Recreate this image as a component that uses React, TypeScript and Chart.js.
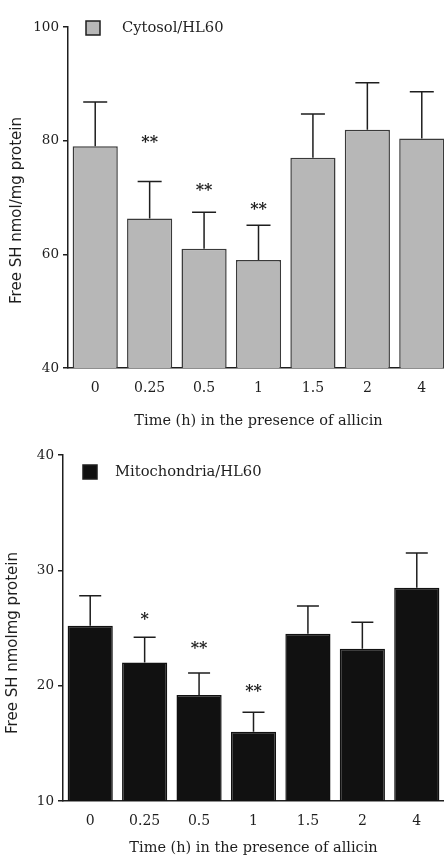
import React, { useEffect, useRef } from "react";
import { Chart, registerables } from "chart.js";

Chart.register(...registerables);

// ---- data ----
const categories = ["0", "0.25", "0.5", "1", "1.5", "2", "4"];

const cytosolLabel = "Cytosol/HL60";
const cytosolValues = [79.0, 66.3, 61.0, 59.0, 77.0, 81.9, 80.4];
const cytosolErrors = [7.8, 6.5, 6.4, 6.1, 7.7, 8.3, 8.2];
const cytosolStars = ["", "**", "**", "**", "", "", ""];
const cytosolStarLevels = [0, 80.4, 72.0, 68.6, 0, 0, 0];
const cytosolTicks = [40, 60, 80, 100];

const mitoLabel = "Mitochondria/HL60";
const mitoValues = [25.2, 22.0, 19.2, 16.0, 24.5, 23.2, 28.5];
const mitoErrors = [2.6, 2.2, 1.9, 1.7, 2.4, 2.3, 3.0];
const mitoStars = ["", "*", "**", "**", "", "", ""];
const mitoStarLevels = [0, 26.1, 23.6, 19.9, 0, 0, 0];
const mitoTicks = [10, 20, 30, 40];

const xTitle = "Time (h) in the presence of allicin";
const cytosolYTitle = "Free SH nmol/mg protein";
const mitoYTitle = "Free SH nmolmg protein";

const SERIF = '"DejaVu Serif", "Liberation Serif", serif';
const SANS = '"DejaVu Sans", "Liberation Sans", sans-serif';
const INK = "#1e1e1e";

const decorPlugin = {
  id: "panelDecor",
  afterDatasetsDraw(chart: any, _args: any, opts: any) {
    const ctx = chart.ctx as CanvasRenderingContext2D;
    const meta = chart.getDatasetMeta(0);
    const ys = chart.scales.y;
    const vals = chart.data.datasets[0].data as number[];
    const area = chart.chartArea;
    ctx.save();
    ctx.strokeStyle = INK;
    ctx.lineWidth = 1.5;
    ctx.fillStyle = INK;
    ctx.textAlign = "center";
    ctx.textBaseline = "alphabetic";
    const starSize = 16;
    ctx.font = `bold ${starSize}px ${SERIF}`;
    meta.data.forEach((bar: any, i: number) => {
      const top = ys.getPixelForValue(vals[i] + opts.errors[i]);
      const x = bar.x;
      ctx.beginPath();
      ctx.moveTo(x, bar.y);
      ctx.lineTo(x, top);
      ctx.moveTo(x - opts.capHalf, top);
      ctx.lineTo(x + opts.capHalf, top);
      ctx.stroke();
      if (opts.stars[i]) {
        const cy = ys.getPixelForValue(opts.starLevels[i]);
        ctx.fillText(opts.stars[i], x, cy + starSize * 0.55);
      }
    });
    // legend
    const bx = area.left + opts.legendDx;
    const by = area.top + opts.legendDy;
    ctx.fillStyle = opts.legendFill;
    ctx.fillRect(bx, by, 14, 14);
    ctx.lineWidth = 1.5;
    ctx.strokeStyle = INK;
    ctx.strokeRect(bx, by, 14, 14);
    ctx.fillStyle = INK;
    ctx.textAlign = "left";
    ctx.textBaseline = "middle";
    ctx.font = `14.7px ${SERIF}`;
    ctx.fillText(opts.label, area.left + opts.textDx, by + 7);
    // y-axis title
    ctx.save();
    ctx.translate(opts.yTitleX, (area.top + area.bottom) / 2 + opts.yTitleShift);
    ctx.rotate(-Math.PI / 2);
    ctx.textAlign = "center";
    ctx.textBaseline = "middle";
    ctx.font = `15px ${SANS}`;
    ctx.fillText(opts.yTitle, 0, 0);
    ctx.restore();
    ctx.restore();
  },
};

function makeConfig(p: {
  label: string;
  values: number[];
  errors: number[];
  stars: string[];
  starLevels: number[];
  ticks: number[];
  yTitle: string;
  fill: string;
  border: string;
  yWidth: number;
  xHeight: number;
  padTop: number;
  padRight: number;
  legendDx: number;
  legendDy: number;
  textDx: number;
  capHalf: number;
  yTitleX: number;
  yTitleShift: number;
}): any {
  const min = p.ticks[0];
  const max = p.ticks[p.ticks.length - 1];
  const step = p.ticks[1] - p.ticks[0];
  return {
    type: "bar",
    data: {
      labels: categories,
      datasets: [
        {
          label: p.label,
          data: p.values,
          backgroundColor: p.fill,
          borderColor: p.border,
          borderWidth: 1.5,
          barPercentage: 0.83,
          categoryPercentage: 1,
        },
      ],
    },
    options: {
      responsive: false,
      animation: false,
      layout: { padding: { top: p.padTop, right: p.padRight, left: 0, bottom: 0 } },
      plugins: {
        legend: { display: false },
        tooltip: { enabled: false },
        panelDecor: {
          errors: p.errors,
          stars: p.stars,
          starLevels: p.starLevels,
          label: p.label,
          legendFill: p.fill,
          legendDx: p.legendDx,
          legendDy: p.legendDy,
          textDx: p.textDx,
          capHalf: p.capHalf,
          yTitle: p.yTitle,
          yTitleX: p.yTitleX,
          yTitleShift: p.yTitleShift,
        },
      },
      scales: {
        x: {
          grid: { display: false, drawTicks: false },
          border: { display: true, color: INK, width: 1.5 },
          ticks: { color: INK, font: { family: SERIF, size: 14 }, padding: 12 },
          title: {
            display: true,
            text: xTitle,
            color: INK,
            font: { family: SERIF, size: 14.5 },
            padding: { top: 3, bottom: 0 },
          },
          afterFit(scale: any) {
            scale.height = p.xHeight;
          },
        },
        y: {
          min,
          max,
          ticks: { stepSize: step, color: INK, font: { family: SERIF, size: 13.5 }, padding: 4 },
          grid: { drawOnChartArea: false, drawTicks: true, tickLength: 5, color: INK, lineWidth: 1.5 },
          border: { display: true, color: INK, width: 1.5 },
          title: { display: false },
          afterFit(scale: any) {
            scale.width = p.yWidth;
          },
        },
      },
    },
    plugins: [decorPlugin],
  };
}

function Panel(props: { cfg: any; width: number; height: number; top: number }) {
  const ref = useRef<HTMLCanvasElement | null>(null);
  useEffect(() => {
    if (!ref.current) return;
    const chart = new Chart(ref.current, props.cfg);
    return () => chart.destroy();
  }, []);
  return (
    <canvas
      ref={ref}
      width={props.width}
      height={props.height}
      style={{ position: "absolute", left: 0, top: props.top, width: props.width, height: props.height }}
    />
  );
}

export default function App() {
  useEffect(() => {
    document.body.style.margin = "0";
    document.body.style.overflow = "hidden";
    document.body.style.background = "#fff";
  }, []);
  const topCfg = makeConfig({
    label: cytosolLabel,
    values: cytosolValues,
    errors: cytosolErrors,
    stars: cytosolStars,
    starLevels: cytosolStarLevels,
    ticks: cytosolTicks,
    yTitle: cytosolYTitle,
    fill: "#b7b7b7",
    border: "#3a3a3a",
    yWidth: 68,
    xHeight: 62,
    padTop: 27,
    padRight: 3,
    legendDx: 18,
    legendDy: -6,
    textDx: 54,
    capHalf: 12,
    yTitleX: 17,
    yTitleShift: 13,
  });
  const botCfg = makeConfig({
    label: mitoLabel,
    values: mitoValues,
    errors: mitoErrors,
    stars: mitoStars,
    starLevels: mitoStarLevels,
    ticks: mitoTicks,
    yTitle: mitoYTitle,
    fill: "#111111",
    border: "#111111",
    yWidth: 63,
    xHeight: 56,
    padTop: 25,
    padRight: 0,
    legendDx: 20,
    legendDy: 10,
    textDx: 52,
    capHalf: 11,
    yTitleX: 13,
    yTitleShift: 15,
  });
  return (
    <div style={{ position: "relative", width: 444, height: 857, overflow: "hidden", background: "#fff" }}>
      <Panel cfg={topCfg} width={452} height={430} top={0} />
      <Panel cfg={botCfg} width={444} height={427} top={430} />
    </div>
  );
}
